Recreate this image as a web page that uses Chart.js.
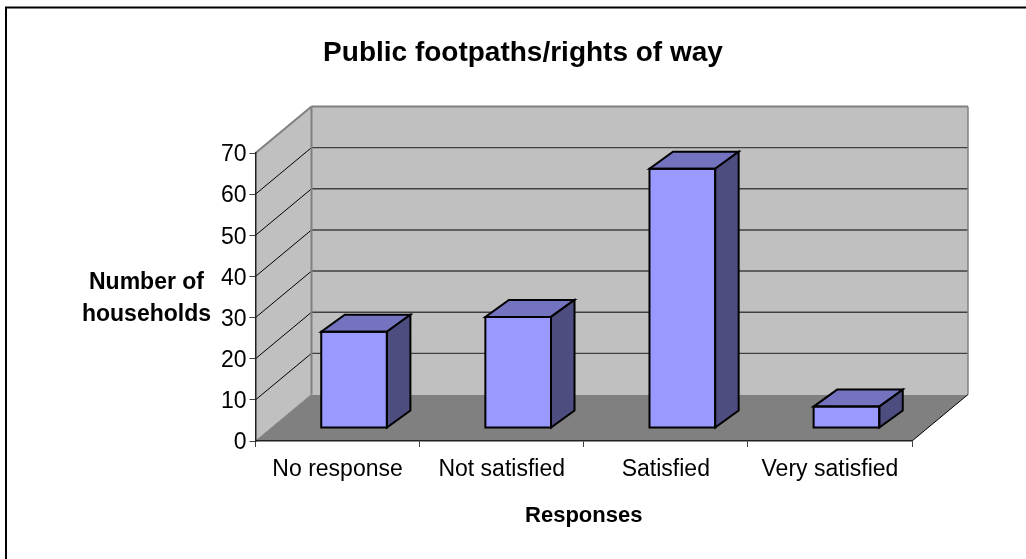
<!DOCTYPE html>
<html><head><meta charset="utf-8">
<style>html,body{margin:0;padding:0;background:#fff}canvas{display:block}</style>
<script src="https://cdn.jsdelivr.net/npm/chart.js@4"></script>
</head><body><canvas id="c" width="1026" height="559"></canvas>
<script>
const categories = ["No response", "Not satisfied", "Satisfied", "Very satisfied"];
const households = [23.4, 27, 63, 5.2];
const yTicks = [0, 10, 20, 30, 40, 50, 60, 70];
const yTitleLines = ["Number of", "households"];
const chartTitle = "Public footpaths/rights of way";
const xTitle = "Responses";

const FONT = '"Liberation Sans", Arial, sans-serif';
const wallDepth = {x: 56, y: -46.5};
const barShift = {x: 16.5, y: -13};
const barDepth = {x: 23.5, y: -17};
const frontFill = '#9999FF', topFill = '#7373BF', sideFill = '#4D4D80';

function poly(ctx, pts, fill, stroke, lw) {
  ctx.beginPath();
  pts.forEach((p, i) => i ? ctx.lineTo(p[0], p[1]) : ctx.moveTo(p[0], p[1]));
  ctx.closePath();
  if (fill) { ctx.fillStyle = fill; ctx.fill(); }
  if (stroke) { ctx.strokeStyle = stroke; ctx.lineWidth = lw; ctx.lineJoin = 'miter'; ctx.stroke(); }
}
function seg(ctx, a, b, color, lw) {
  ctx.beginPath(); ctx.moveTo(a[0], a[1]); ctx.lineTo(b[0], b[1]);
  ctx.strokeStyle = color; ctx.lineWidth = lw; ctx.stroke();
}

const room3d = {
  id: 'room3d',
  beforeDraw(chart) {
    const ctx = chart.ctx, {width, height} = chart;
    const xs = chart.scales.x, ys = chart.scales.y;
    const L = xs.left, R = xs.right;
    const B = ys.getPixelForValue(0), T = ys.getPixelForValue(70);
    const dx = wallDepth.x, dy = wallDepth.y;
    ctx.save();
    ctx.fillStyle = '#fff'; ctx.fillRect(0, 0, width, height);
    seg(ctx, [6, 559], [6, 7.5], '#000', 2);
    seg(ctx, [5, 7.5], [1026, 7.5], '#000', 2);
    // floor, back wall, left wall
    poly(ctx, [[L, B], [R, B], [R + dx, B + dy], [L + dx, B + dy]], '#808080');
    poly(ctx, [[L + dx, T + dy], [R + dx, T + dy], [R + dx, B + dy], [L + dx, B + dy]], '#C0C0C0');
    poly(ctx, [[L, T], [L + dx, T + dy], [L + dx, B + dy], [L, B]], '#C0C0C0');
    // gridlines
    yTicks.forEach(v => {
      const y = ys.getPixelForValue(v);
      if (v > 0 && v < 70) {
        seg(ctx, [L, y], [L + dx, y + dy], '#000', 1);
        seg(ctx, [L + dx, y + dy], [R + dx, y + dy], '#404040', 1.4);
      }
    });
    // wall edges
    seg(ctx, [L, T], [L + dx, T + dy], '#808080', 2);
    seg(ctx, [L + dx, T + dy], [R + dx, T + dy], '#808080', 2);
    seg(ctx, [L + dx, T + dy], [L + dx, B + dy], '#808080', 2);
    seg(ctx, [R + dx, T + dy], [R + dx, B + dy], '#808080', 1.5);
    seg(ctx, [L, B], [L + dx, B + dy], '#808080', 1);
    seg(ctx, [R, B], [R + dx, B + dy], '#000', 1);
    // horizontal axis title for the value axis
    ctx.fillStyle = '#000';
    ctx.font = 'bold 23px ' + FONT;
    ctx.textAlign = 'center'; ctx.textBaseline = 'middle';
    yTitleLines.forEach((s, i) => ctx.fillText(s, 146.5, i ? 315 : 283));
    ctx.restore();
  },
  beforeDatasetsDraw(chart) {
    const ctx = chart.ctx;
    ctx.save();
    ctx.translate(barShift.x, barShift.y);
  },
  afterDatasetsDraw(chart) {
    const ctx = chart.ctx;
    chart.getDatasetMeta(0).data.forEach(bar => {
      const l = bar.x - bar.width / 2, r = bar.x + bar.width / 2, t = bar.y, b = bar.base;
      const dx = barDepth.x, dy = barDepth.y;
      poly(ctx, [[l, t], [r, t], [r + dx, t + dy], [l + dx, t + dy]], topFill, '#000', 2);
      poly(ctx, [[r, t], [r + dx, t + dy], [r + dx, b + dy], [r, b]], sideFill, '#000', 2);
      poly(ctx, [[l, t], [r, t], [r, b], [l, b]], null, '#000', 2);
    });
    ctx.restore();
  }
};

new Chart(document.getElementById('c'), {
  type: 'bar',
  data: {
    labels: categories,
    datasets: [{
      data: households,
      backgroundColor: frontFill,
      borderColor: '#000',
      borderWidth: 0,
      barPercentage: 0.4,
      categoryPercentage: 1
    }]
  },
  plugins: [room3d],
  options: {
    responsive: false,
    animation: false,
    layout: {padding: {left: 134, right: 114, top: 0, bottom: 30}},
    plugins: {
      legend: {display: false},
      tooltip: {enabled: false},
      title: {
        display: true,
        text: chartTitle,
        color: '#000',
        font: {family: FONT, size: 28, weight: 'bold', lineHeight: 1.2},
        padding: {top: 36, bottom: 83.4}
      }
    },
    scales: {
      x: {
        offset: true,
        border: {color: '#202020', width: 1.5},
        grid: {display: true, drawOnChartArea: false, drawTicks: true, tickLength: 6, color: '#404040', lineWidth: 1},
        ticks: {color: '#000', font: {family: FONT, size: 23}, padding: 9, maxRotation: 0, autoSkip: false},
        title: {display: true, text: xTitle, color: '#000', font: {family: FONT, size: 22, weight: 'bold'}, padding: {top: 13, bottom: 0}},
        afterFit(s) { s.height = 88; }
      },
      y: {
        min: 0, max: 70,
        border: {color: '#202020', width: 1.5},
        grid: {drawOnChartArea: false, drawTicks: true, tickLength: 6, color: '#404040', lineWidth: 1},
        ticks: {
          stepSize: 10, color: '#000', padding: 3,
          font: {family: FONT, size: 23, lineHeight: '4px'},
          callback: v => ['', String(v)]
        },
        afterFit(s) { s.width = 121.5; }
      }
    }
  }
});
</script></body></html>
